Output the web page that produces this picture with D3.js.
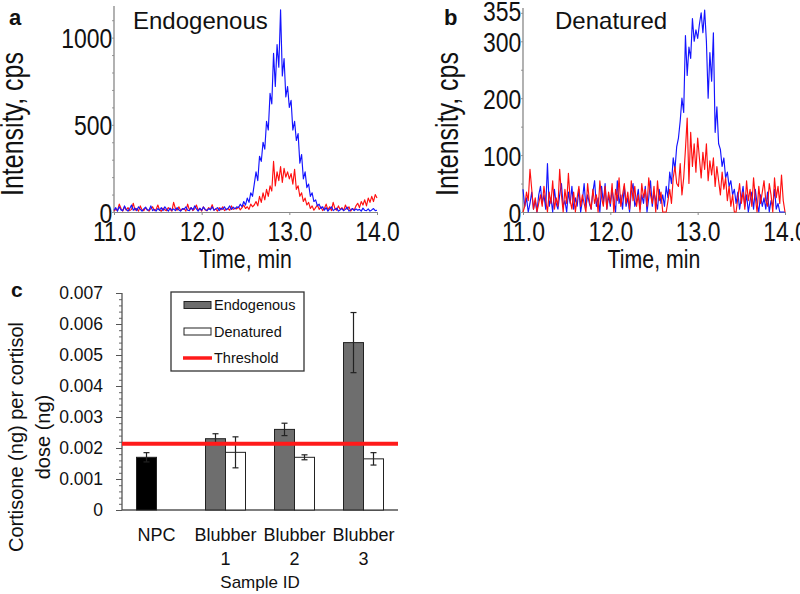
<!DOCTYPE html>
<html><head><meta charset="utf-8">
<script src="https://cdn.jsdelivr.net/npm/d3@7"></script>
<style>
html,body{margin:0;padding:0;background:#fff;}
svg{display:block;}
</style></head>
<body>
<svg id="chart" width="800" height="594"></svg>
<script>
// ---------------- DATA ----------------
// Chromatogram sampling (min)
const timeStart = 11.0, timeEnd = 14.0, timeStep = 0.02;
const timeTicks = [11.0, 12.0, 13.0, 14.0];

// Panel a: Endogenous
const endoBlue = [
 10,25,5,30,12,8,35,15,5,20,
 40,10,22,8,30,15,5,18,28,10,
 12,35,8,15,5,20,10,25,8,30,
 15,5,22,10,18,8,25,12,5,20,
 15,30,10,8,25,12,35,18,5,22,
 10,28,15,8,20,12,30,10,18,25,
 8,22,15,30,12,20,35,15,28,18,
 30,25,45,30,60,40,80,55,110,90,
 160,230,180,320,290,400,360,520,470,680,
 620,910,720,960,830,1160,780,880,660,720,
 600,640,470,520,410,450,280,330,190,230,
 140,160,90,110,60,70,35,45,20,30,
 10,25,5,18,30,8,15,22,5,12,
 20,8,15,28,5,12,20,8,18,10,
 15,5,22,10,8,18,5,12,20,8,10];
const endoRed = [
 5,15,8,45,20,5,30,10,25,8,
 15,50,10,20,5,35,12,8,25,15,
 5,20,30,8,15,40,10,5,22,12,
 8,25,15,5,55,20,10,30,8,15,
 20,5,45,12,25,8,18,40,10,20,
 5,30,12,8,25,15,42,10,18,5,
 25,12,30,8,15,20,10,35,15,22,
 18,30,12,25,40,20,30,15,45,30,
 40,60,35,90,55,110,70,130,90,150,
 120,290,150,230,180,260,170,250,200,230,
 190,220,160,245,130,150,90,110,60,80,
 40,55,20,35,10,25,40,15,30,8,
 20,45,12,30,8,55,20,10,35,15,
 25,8,40,15,30,5,20,12,35,50,
 25,60,40,70,35,80,55,90,60,100,80];
const endoTicks = [0, 500, 1000];
const endoMax = 1170;

// Panel b: Denatured
const denBlue = [
 40,10,25,0,15,35,5,20,0,30,
 45,15,30,5,85,10,25,0,40,15,
 5,30,50,10,20,0,35,15,45,5,
 25,10,40,0,20,50,8,30,15,5,
 35,55,10,25,0,45,15,50,5,30,
 10,40,20,0,55,15,30,5,45,10,
 25,0,35,50,10,20,40,5,30,15,
 45,0,25,55,10,35,20,5,40,15,
 30,10,45,25,70,50,95,75,115,130,
 160,200,175,310,240,290,270,340,300,320,
 305,330,350,315,355,300,200,280,230,315,
 140,185,120,110,80,95,60,70,45,55,
 30,40,15,35,5,25,45,10,30,0,
 20,35,5,40,15,0,30,10,25,5,
 35,0,20,10,40,5,15,0,0,0,0];
const denRed = [
 0,10,35,20,75,40,5,25,0,15,
 30,10,45,20,0,35,15,55,5,25,
 10,75,30,0,40,15,68,20,5,35,
 0,25,45,10,30,15,0,50,20,5,
 40,15,30,0,55,25,10,45,5,35,
 15,50,0,40,20,60,10,30,50,15,
 35,5,55,20,45,10,30,0,50,25,
 40,10,60,30,15,45,0,55,20,35,
 0,0,0,20,40,15,60,80,50,45,
 85,30,60,110,165,50,140,80,120,70,
 130,95,60,105,75,120,55,90,65,95,
 45,80,55,30,70,40,60,20,45,10,
 30,0,0,25,50,15,35,5,55,20,
 40,10,60,25,0,45,15,35,55,20,
 10,50,30,0,60,25,45,15,65,20,0];
const denTicks = [0, 100, 200, 300, 355];
const denMax = 355;

// Panel c: bar chart
const categories = ["NPC", "Blubber 1", "Blubber 2", "Blubber 3"];
const seriesNames = ["Endogenous", "Denatured"];
const endogenousVals = [0.0017, 0.0023, 0.0026, 0.0054];
const endogenousErr  = [0.00015, 0.00016, 0.0002, 0.00097];
const denaturedVals  = [null, 0.00186, 0.0017, 0.00165];
const denaturedErr   = [null, 0.0005, 0.00008, 0.0002];
const thresholdVal = 0.00214;
const barTicks = [0, 0.001, 0.002, 0.003, 0.004, 0.005, 0.006, 0.007];

// ---------------- DRAW ----------------
const svg = d3.select("#chart");
const SANS = "'Liberation Sans',Arial,sans-serif";
const NARROW_SCALE = "scale(0.82,1)";
const times = d3.range(0, endoBlue.length).map(i => +(timeStart + i * timeStep).toFixed(2));

function chromatogram(opts) {
  const g = svg.append("g");
  const x = d3.scaleLinear().domain([timeStart, timeEnd]).range([opts.x0, opts.x1]);
  const y = d3.scaleLinear().domain([0, opts.ymax]).range([212, opts.ytop]);
  // minor ticks y
  const yMinor = d3.range(0, opts.ymax + 0.001, opts.minorStep);
  g.append("g").attr("transform", `translate(${opts.x0},0)`)
    .call(d3.axisLeft(y).tickValues(yMinor).tickSize(2).tickFormat(""))
    .call(a => a.select(".domain").remove())
    .call(a => a.selectAll("line").attr("stroke", "#999"));
  const yAx = g.append("g").attr("transform", `translate(${opts.x0},0)`)
    .call(d3.axisLeft(y).tickValues(opts.ticks).tickSize(0).tickPadding(2).tickFormat(d3.format("d")));
  yAx.select(".domain").attr("stroke", "#888").attr("stroke-width", 1.3).attr("d", `M0,${y(0)}V${opts.ytop - 2}`);
  yAx.selectAll("text").attr("font-family", SANS).attr("font-size", 28).attr("fill", "#111")
    .attr("dy", "0.36em").attr("transform", NARROW_SCALE);
  const xAx = g.append("g").attr("transform", `translate(0,212)`)
    .call(d3.axisBottom(x).tickValues(timeTicks).tickSize(3).tickPadding(6).tickFormat(d3.format(".1f")));
  xAx.select(".domain").attr("stroke", "#888").attr("stroke-width", 1);
  xAx.selectAll("line").attr("stroke", "#888");
  xAx.selectAll("text").attr("font-family", SANS).attr("font-size", 28).attr("fill", "#111")
    .attr("dy", "0.72em").attr("transform", NARROW_SCALE);

  const line = d3.line().x((d, i) => x(times[i])).y(d => y(d));
  opts.series.forEach(s => {
    g.append("path").datum(s.values).attr("d", line)
      .attr("fill", "none").attr("stroke", s.color).attr("stroke-width", 1.15).attr("stroke-linejoin", "round");
  });
  // axis titles
  g.append("text").attr("transform", `translate(${(opts.x0 + opts.x1) / 2},268) ${NARROW_SCALE}`)
    .attr("text-anchor", "middle")
    .attr("font-family", SANS).attr("font-size", 26).attr("fill", "#111").text("Time, min");
  g.append("text").attr("transform", `translate(${opts.ylabX},124) rotate(-90) ${NARROW_SCALE}`)
    .attr("text-anchor", "middle")
    .attr("font-family", SANS).attr("font-size", 30.5).attr("fill", "#111").text("Intensity, cps");
  g.append("text").attr("x", opts.titleX).attr("y", 29).attr("font-family", SANS).attr("font-size", 24)
    .attr("fill", "#111").text(opts.title);
  g.append("text").attr("x", opts.letterX).attr("y", 25).attr("font-family", SANS).attr("font-weight", "bold")
    .attr("font-size", 22).attr("fill", "#111").text(opts.letter);
}

chromatogram({x0: 114, x1: 377, ymax: endoMax, ytop: 8, ticks: endoTicks, minorStep: 100,
  series: [{values: endoRed, color: "#ff1010"}, {values: endoBlue, color: "#1414ff"}],
  ylabX: 23, title: "Endogenous", titleX: 133, letter: "a", letterX: 9});
chromatogram({x0: 523, x1: 785, ymax: denMax, ytop: 10, ticks: denTicks, minorStep: 50,
  series: [{values: denBlue, color: "#1414ff"}, {values: denRed, color: "#ff1010"}],
  ylabX: 458, title: "Denatured", titleX: 555, letter: "b", letterX: 444});

// ---------- panel c ----------
const gc = svg.append("g");
const xb = d3.scaleBand().domain(categories).range([122, 398]).padding(0);
const xs = d3.scaleBand().domain(seriesNames).range([xb.bandwidth() / 2 - 20, xb.bandwidth() / 2 + 20]).padding(0);
const yb = d3.scaleLinear().domain([0, 0.007]).range([510, 293]);

const minorVals = d3.range(0, 71).map(i => i * 0.0001).filter((v, i) => i % 2 === 0);
gc.append("g").attr("transform", "translate(122,0)")
  .call(d3.axisLeft(yb).tickValues(minorVals).tickSize(3).tickFormat(""))
  .call(a => a.select(".domain").remove())
  .call(a => a.selectAll("line").attr("stroke", "#666"));
const ybAx = gc.append("g").attr("transform", "translate(122,0)")
  .call(d3.axisLeft(yb).tickValues(barTicks).tickSize(6).tickPadding(13)
    .tickFormat(d => d === 0 ? "0" : d3.format(".3f")(d)));
ybAx.select(".domain").attr("stroke", "#555").attr("stroke-width", 1.3).attr("d", "M0,510V293");
ybAx.selectAll("line").attr("stroke", "#555");
ybAx.selectAll("text").attr("font-family", SANS).attr("font-size", 17.5).attr("fill", "#111");

// x axis line
gc.append("line").attr("x1", 122).attr("x2", 398).attr("y1", yb(0)).attr("y2", yb(0))
  .attr("stroke", "#555").attr("stroke-width", 1.3);

// bars
const barData = [];
categories.forEach((c, i) => {
  barData.push({cat: c, s: "Endogenous", v: endogenousVals[i], e: endogenousErr[i], npc: i === 0});
  if (denaturedVals[i] != null) barData.push({cat: c, s: "Denatured", v: denaturedVals[i], e: denaturedErr[i], npc: false});
});
gc.selectAll("rect.bar").data(barData).join("rect").attr("class", "bar")
  .attr("x", d => xb(d.cat) + xs(d.s)).attr("width", xs.bandwidth())
  .attr("y", d => yb(d.v)).attr("height", d => yb(0) - yb(d.v))
  .attr("fill", d => d.npc ? "#000" : (d.s === "Endogenous" ? "#6e6e6e" : "#fff"))
  .attr("stroke", "#222").attr("stroke-width", 1);
// error bars
const eb = gc.selectAll("g.err").data(barData).join("g").attr("class", "err")
  .attr("transform", d => `translate(${xb(d.cat) + xs(d.s) + xs.bandwidth() / 2},0)`);
eb.append("line").attr("y1", d => yb(d.v - d.e)).attr("y2", d => yb(d.v + d.e)).attr("stroke", "#222").attr("stroke-width", 1.2);
eb.append("line").attr("x1", -3).attr("x2", 3).attr("y1", d => yb(d.v + d.e)).attr("y2", d => yb(d.v + d.e)).attr("stroke", "#222").attr("stroke-width", 1.2);
eb.append("line").attr("x1", -3).attr("x2", 3).attr("y1", d => yb(d.v - d.e)).attr("y2", d => yb(d.v - d.e)).attr("stroke", "#222").attr("stroke-width", 1.2);

// threshold
gc.append("line").attr("x1", 122).attr("x2", 398).attr("y1", yb(thresholdVal)).attr("y2", yb(thresholdVal))
  .attr("stroke", "#ff1a1a").attr("stroke-width", 4);

// category labels
categories.forEach(c => {
  const parts = c.split(" ");
  const t = gc.append("text").attr("x", xb(c) + xb.bandwidth() / 2).attr("y", 541).attr("text-anchor", "middle")
    .attr("font-family", SANS).attr("font-size", 18).attr("fill", "#111");
  parts.forEach((p, k) => t.append("tspan").attr("x", xb(c) + xb.bandwidth() / 2).attr("dy", k === 0 ? 0 : 24).text(p));
});
gc.append("text").attr("x", 260).attr("y", 588).attr("text-anchor", "middle").attr("font-family", SANS)
  .attr("font-size", 17).attr("fill", "#111").text("Sample ID");
gc.append("text").attr("transform", "translate(23,437) rotate(-90)").attr("text-anchor", "middle")
  .attr("font-family", SANS).attr("font-size", 20).attr("fill", "#111").text("Cortisone (ng) per cortisol");
gc.append("text").attr("transform", "translate(50,437) rotate(-90)").attr("text-anchor", "middle")
  .attr("font-family", SANS).attr("font-size", 20).attr("fill", "#111").text("dose (ng)");
gc.append("text").attr("x", 11).attr("y", 297).attr("font-family", SANS).attr("font-weight", "bold")
  .attr("font-size", 21).attr("fill", "#111").text("c");

// legend
const lg = gc.append("g");
lg.append("rect").attr("x", 171).attr("y", 292).attr("width", 133).attr("height", 79)
  .attr("fill", "#fff").attr("stroke", "#333").attr("stroke-width", 1.3);
const legendItems = [
  {name: "Endogenous", type: "rect", fill: "#6e6e6e"},
  {name: "Denatured", type: "rect", fill: "#fff"},
  {name: "Threshold", type: "line"}];
legendItems.forEach((it, i) => {
  const cy = 305 + i * 26.5;
  if (it.type === "rect") {
    lg.append("rect").attr("x", 184).attr("y", cy - 3.5).attr("width", 27).attr("height", 7)
      .attr("fill", it.fill).attr("stroke", "#222").attr("stroke-width", 1);
  } else {
    lg.append("line").attr("x1", 183).attr("x2", 212).attr("y1", cy).attr("y2", cy)
      .attr("stroke", "#ff1a1a").attr("stroke-width", 3.5);
  }
  lg.append("text").attr("x", 214).attr("y", cy).attr("dy", "0.35em").attr("font-family", SANS)
    .attr("font-size", 14.5).attr("fill", "#111").text(it.name);
});
</script>
</body></html>
